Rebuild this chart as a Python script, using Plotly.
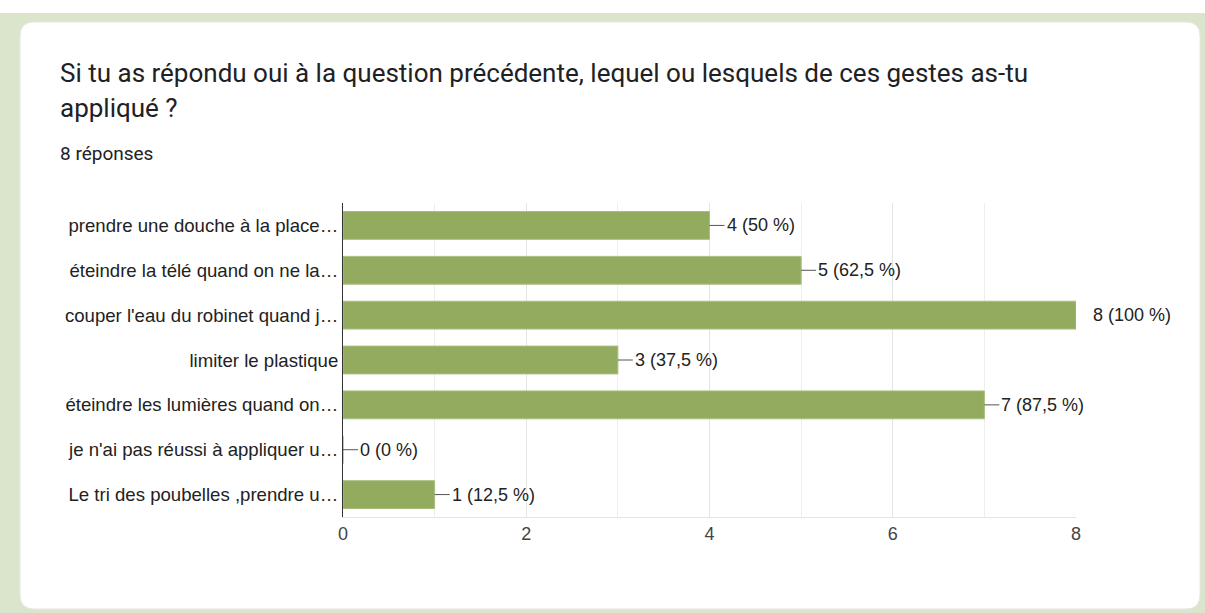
import plotly.graph_objects as go

# --- data ---
categories = [
    "prendre une douche à la place…",
    "éteindre la télé quand on ne la…",
    "couper l'eau du robinet quand j…",
    "limiter le plastique",
    "éteindre les lumières quand on…",
    "je n'ai pas réussi à appliquer u…",
    "Le tri des poubelles ,prendre u…",
]
counts = [4, 5, 8, 3, 7, 0, 1]
total_responses = 8
x_ticks = [0, 2, 4, 6, 8]

TITLE_1 = "Si tu as répondu oui à la question précédente, lequel ou lesquels de ces gestes as-tu"
TITLE_2 = "appliqué ?"
SUBTITLE = f"{total_responses} réponses"

COLORS = {
    'Bar': '#93AB5E',
    'BarEdge': '#A9BE80',
    'Page': '#DAE5CB',
    'Text': '#222222',
    'Tick': '#444444',
    'Grid': '#E4E4E4',
    'Minor': '#EEEEEE',
}
CHART_FONT = "Liberation Sans, Arial, sans-serif"

W, H = 1205, 613
# plot box in pixels
L, R, T, B = 343, 1076, 203, 517


def px_x(px):
    return (px - L) / (R - L)


def px_y(py):
    return (B - py) / (B - T)


def pct_label(n):
    p = n / total_responses * 100
    return f"{n} ({p:g} %)".replace('.', ',')


def rounded_card(x0, y0, x1, y1, r):
    # rounded rectangle path in paper coords, from pixel box
    X = lambda v: f"{px_x(v):.5f}"
    Y = lambda v: f"{px_y(v):.5f}"
    return (
        f"M {X(x0 + r)},{Y(y0)} L {X(x1 - r)},{Y(y0)} Q {X(x1)},{Y(y0)} {X(x1)},{Y(y0 + r)} "
        f"L {X(x1)},{Y(y1 - r)} Q {X(x1)},{Y(y1)} {X(x1 - r)},{Y(y1)} "
        f"L {X(x0 + r)},{Y(y1)} Q {X(x0)},{Y(y1)} {X(x0)},{Y(y1 - r)} "
        f"L {X(x0)},{Y(y0 + r)} Q {X(x0)},{Y(y0)} {X(x0 + r)},{Y(y0)} Z"
    )


fig = go.Figure(go.Bar(
    x=counts, y=categories, orientation='h',
    width=0.62,
    marker=dict(color=COLORS['Bar'], line=dict(color=COLORS['BarEdge'], width=1)),
    hoverinfo='skip',
))

# value labels with leader lines
for cat, n in zip(categories, counts):
    fig.add_annotation(
        x=n, y=cat, xref='x', yref='y',
        text=pct_label(n),
        showarrow=True, arrowhead=0, arrowwidth=1,
        arrowcolor='rgba(0,0,0,0)' if n == total_responses else '#555555',
        ax=15, ay=0, xanchor='left', standoff=0,
        font=dict(family=CHART_FONT, size=18, color=COLORS['Text']),
    )

# title block
title_font = dict(family="Roboto, sans-serif", size=26, color='#202124')
fig.add_annotation(x=px_x(58), y=px_y(73), xref='paper', yref='paper', text=TITLE_1,
                   showarrow=False, xanchor='left', yanchor='middle', font=title_font)
fig.add_annotation(x=px_x(58), y=px_y(108), xref='paper', yref='paper', text=TITLE_2,
                   showarrow=False, xanchor='left', yanchor='middle', font=title_font)
fig.add_annotation(x=px_x(58), y=px_y(153), xref='paper', yref='paper', text=SUBTITLE,
                   showarrow=False, xanchor='left', yanchor='middle',
                   font=dict(family="Roboto, sans-serif", size=19, color='#202124'))

# page background + white card
fig.add_shape(type='rect', xref='paper', yref='paper', layer='below',
              x0=px_x(0), x1=px_x(W), y0=px_y(13), y1=px_y(H),
              fillcolor=COLORS['Page'], line=dict(width=0))
fig.add_shape(type='path', xref='paper', yref='paper', layer='below',
              path=rounded_card(20, 22, 1200, 609, 14),
              fillcolor='white', line=dict(color='#E6E6E6', width=1))

fig.update_layout(
    width=W, height=H, autosize=False,
    margin=dict(l=L, r=W - R, t=T, b=H - B),
    paper_bgcolor='white',
    plot_bgcolor='rgba(0,0,0,0)',
    showlegend=False,
    font=dict(family=CHART_FONT, size=18, color=COLORS['Text']),
    xaxis=dict(
        range=[0, 8], tickvals=x_ticks, showgrid=True, gridcolor=COLORS['Grid'],
        minor=dict(dtick=1, showgrid=True, gridcolor=COLORS['Minor']),
        zeroline=False, showline=True, linecolor=COLORS['Grid'],
        tickfont=dict(size=18, color=COLORS['Tick']), fixedrange=True,
    ),
    yaxis=dict(
        autorange='reversed', showline=True, linecolor='#333333', linewidth=1,
        ticks='', tickfont=dict(size=18.6, color=COLORS['Text']), fixedrange=True,
    ),
)

# drop the default body margin so the figure sits at the window corner
fig.write_html("out.html", config={'displayModeBar': False},
               post_script="document.body.style.margin='0';")
